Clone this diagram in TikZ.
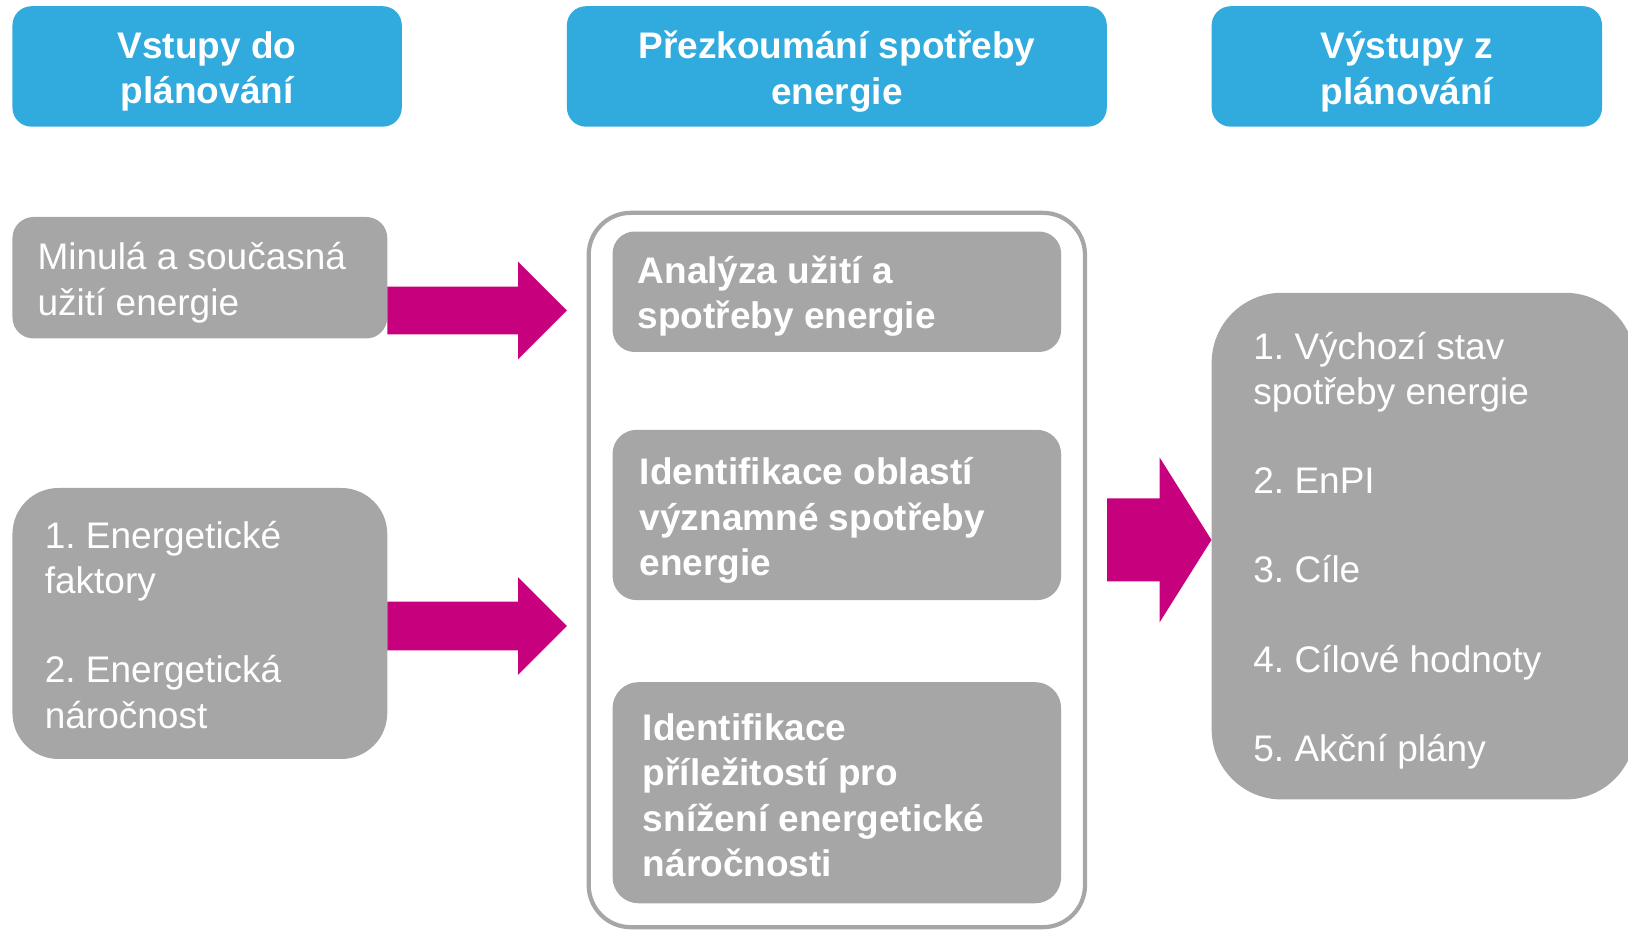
\documentclass[tikz,border=0pt]{standalone}
\usepackage{fontspec}
\setmainfont{Liberation Sans}
\usetikzlibrary{fit,calc}
\frenchspacing
\definecolor{hblue}{HTML}{31AADE}
\definecolor{bgray}{HTML}{A6A6A6}
\definecolor{amag}{HTML}{C7007E}
\newcommand{\fsz}{\fontsize{37}{45.5}\selectfont}
\newcommand{\barrow}[5]{%
  \fill[amag] ($(#1)+(0,-#3)$) -- ($(#2)+(-#5,-#3)$) -- ($(#2)+(-#5,-#4)$) -- (#2)
    -- ($(#2)+(-#5,#4)$) -- ($(#2)+(-#5,#3)$) -- ($(#1)+(0,#3)$) -- cycle;}
\begin{document}
\frenchspacing
\begin{tikzpicture}[x=1.0383pt,y=-1.0383pt,
  hdr/.style={fill=hblue, rounded corners=19pt, inner sep=0pt},
  gbox/.style={fill=bgray, inner sep=0pt},
  htxt/.style={text=white, font=\fsz\bfseries, align=center, inner sep=0pt},
  txt/.style={text=white, anchor=base west, inner sep=0pt}]
\useasboundingbox (0,0) rectangle (1568,896);
\clip (0,0) rectangle (1568,896);
% headers
\node[hdr, fit={(12,6) (387,122)}] (h1) {};
\node[hdr, fit={(546,6) (1066,122)}] (h2) {};
\node[hdr, fit={(1167,6) (1543,122)}] (h3) {};
\node[htxt] (h1t) at ($(h1.center)+(0,5)$) {Vstupy do\\plánování};
\node[htxt] (h2t) at ($(h2.center)+(0,5)$) {Přezkoumání spotřeby\\energie};
\node[htxt] (h3t) at ($(h3.center)+(0,5)$) {Výstupy z\\plánování};
% left boxes
\node[gbox, rounded corners=21pt, fit={(12,209) (373,326)}] (b1) {};
\node[gbox, rounded corners=46pt, fit={(12,470) (373,731)}] (b2) {};
\node[txt] (b1t) at (36,260) {\parbox[t]{500pt}{\fsz\raggedright Minulá a současná\\užití energie}};
\node[txt] (b2t) at (43,528) {\parbox[t]{500pt}{\fsz\raggedright 1. Energetické\\faktory\\[43.5pt]2. Energetická\\náročnost}};
% middle frame
\node[draw=bgray, line width=4.2pt, fill=white, rounded corners=42pt, inner sep=0pt, fit={(567,205) (1045,893)}] (fr) {};
\node[gbox, rounded corners=22pt, fit={(590,223) (1022,339)}] (m1) {};
\node[gbox, rounded corners=24pt, fit={(590,414) (1022,578)}] (m2) {};
\node[gbox, rounded corners=26pt, fit={(590,657) (1022,870)}] (m3) {};
\node[txt] (m1t) at (614,273) {\parbox[t]{500pt}{\fsz\bfseries\raggedright Analýza užití a\\spotřeby energie}};
\node[txt] (m2t) at (616,467) {\parbox[t]{500pt}{\fsz\bfseries\raggedright Identifikace oblastí\\významné spotřeby\\energie}};
\node[txt] (m3t) at (619,713) {\parbox[t]{500pt}{\fsz\bfseries\raggedright Identifikace\\příležitostí pro\\snížení energetické\\náročnosti}};
% right box
\node[gbox, rounded corners=70pt, fit={(1167,282) (1575,770)}] (rb) {};
\node[txt] (rbt) at (1207,346) {\parbox[t]{500pt}{\fsz\raggedright 1. Výchozí stav\\spotřeby energie\\[43.5pt]2. EnPI\\[43.5pt]3. Cíle\\[43.8pt]4. Cílové hodnoty\\[43.8pt]5. Akční plány}};
% arrows
\coordinate (t1) at (546,299);
\coordinate (t2) at (546,603);
\coordinate (t3) at (rb.west |- 0,520);
\coordinate (s1) at (b1.east |- t1);
\coordinate (s2) at (b2.east |- t2);
\coordinate (s3) at (h2.east |- t3);
\barrow{s1}{t1}{23}{47}{47}
\barrow{s2}{t2}{23.5}{47}{47}
\barrow{s3}{t3}{40}{79.5}{50}
\end{tikzpicture}
\end{document}
